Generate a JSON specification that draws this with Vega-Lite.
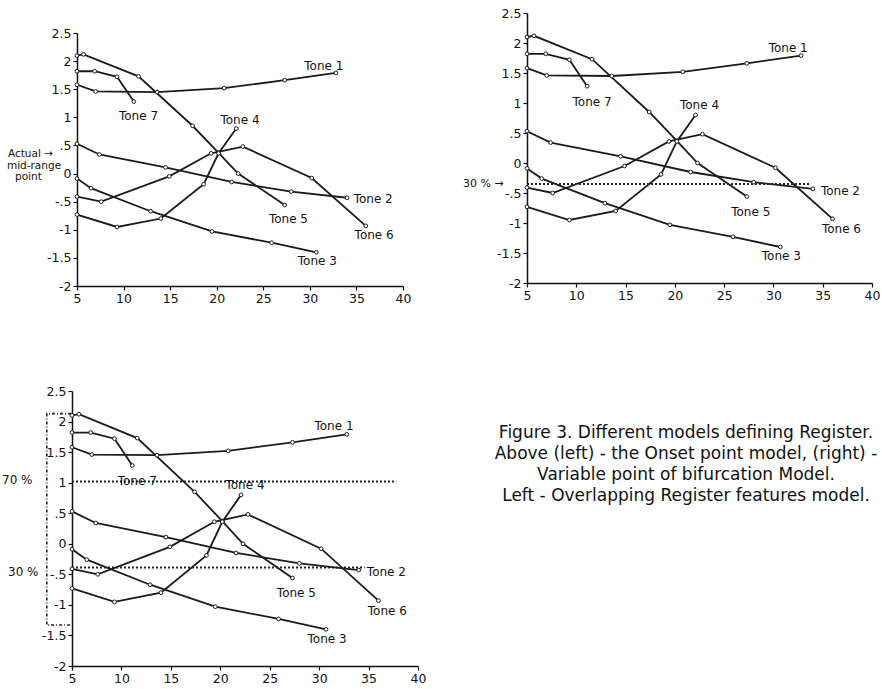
{
  "$schema": "https://vega.github.io/schema/vega-lite/v6.json",
  "padding": {"left": 2, "top": 7, "right": 0, "bottom": 0},
  "background": "white",
  "config": {
    "view": {"stroke": null},
    "font": "DejaVu Sans",
    "axis": {"domainColor": "#111", "domainWidth": 1.5, "tickColor": "#111", "tickSize": 4, "tickWidth": 1.2, "labelColor": "#111", "labelFont": "DejaVu Sans", "labelFontSize": 12.5, "grid": false, "labelPadding": 2, "labelOverlap": false, "labelBound": false, "labelFlush": false, "tickCount": 12},
    "axisX": {"labelAngle": 0}
  },
  "datasets": {
    "tones": [
      {"tone": "Tone 1", "x": 5, "y": 1.58}, {"tone": "Tone 1", "x": 7, "y": 1.46}, {"tone": "Tone 1", "x": 13.6, "y": 1.45}, {"tone": "Tone 1", "x": 20.8, "y": 1.52}, {"tone": "Tone 1", "x": 27.3, "y": 1.66}, {"tone": "Tone 1", "x": 32.8, "y": 1.79},
      {"tone": "Tone 7", "x": 5, "y": 1.82}, {"tone": "Tone 7", "x": 6.9, "y": 1.82}, {"tone": "Tone 7", "x": 9.3, "y": 1.72}, {"tone": "Tone 7", "x": 11.1, "y": 1.28},
      {"tone": "Tone 5", "x": 5, "y": 2.1}, {"tone": "Tone 5", "x": 5.7, "y": 2.12}, {"tone": "Tone 5", "x": 11.6, "y": 1.73}, {"tone": "Tone 5", "x": 17.4, "y": 0.85}, {"tone": "Tone 5", "x": 20.2, "y": 0.37}, {"tone": "Tone 5", "x": 22.3, "y": 0.0}, {"tone": "Tone 5", "x": 27.3, "y": -0.56},
      {"tone": "Tone 6", "x": 5, "y": -0.41}, {"tone": "Tone 6", "x": 7.6, "y": -0.5}, {"tone": "Tone 6", "x": 14.9, "y": -0.05}, {"tone": "Tone 6", "x": 19.4, "y": 0.36}, {"tone": "Tone 6", "x": 22.8, "y": 0.48}, {"tone": "Tone 6", "x": 30.2, "y": -0.08}, {"tone": "Tone 6", "x": 36, "y": -0.93},
      {"tone": "Tone 4", "x": 5, "y": -0.73}, {"tone": "Tone 4", "x": 9.3, "y": -0.95}, {"tone": "Tone 4", "x": 14, "y": -0.8}, {"tone": "Tone 4", "x": 18.6, "y": -0.19}, {"tone": "Tone 4", "x": 20.2, "y": 0.36}, {"tone": "Tone 4", "x": 22.1, "y": 0.8},
      {"tone": "Tone 2", "x": 5, "y": 0.53}, {"tone": "Tone 2", "x": 7.4, "y": 0.34}, {"tone": "Tone 2", "x": 14.5, "y": 0.11}, {"tone": "Tone 2", "x": 21.6, "y": -0.15}, {"tone": "Tone 2", "x": 28, "y": -0.32}, {"tone": "Tone 2", "x": 34, "y": -0.43},
      {"tone": "Tone 3", "x": 5, "y": -0.09}, {"tone": "Tone 3", "x": 6.5, "y": -0.26}, {"tone": "Tone 3", "x": 12.9, "y": -0.67}, {"tone": "Tone 3", "x": 19.5, "y": -1.03}, {"tone": "Tone 3", "x": 25.9, "y": -1.23}, {"tone": "Tone 3", "x": 30.7, "y": -1.4}
    ],
    "labels": [
      {"text": "Tone 1", "x": 31.5, "y": 1.92},
      {"text": "Tone 7", "x": 11.6, "y": 1.02},
      {"text": "Tone 4", "x": 22.5, "y": 0.96},
      {"text": "Tone 2", "x": 36.8, "y": -0.46},
      {"text": "Tone 5", "x": 27.7, "y": -0.81},
      {"text": "Tone 6", "x": 36.9, "y": -1.1},
      {"text": "Tone 3", "x": 30.8, "y": -1.55}
    ],
    "refs": [
      {"panel": "B", "kind": "30", "x": 5, "y": -0.35}, {"panel": "B", "kind": "30", "x": 33.8, "y": -0.35},
      {"panel": "C", "kind": "70", "x": 5, "y": 1.02}, {"panel": "C", "kind": "70", "x": 37.8, "y": 1.02},
      {"panel": "C", "kind": "30", "x": 5, "y": -0.39}, {"panel": "C", "kind": "30", "x": 34.6, "y": -0.39}
    ],
    "notes": [
      {"panel": "A", "text": "Actual →", "x": -2.41, "y": 0.34},
      {"panel": "A", "text": "mid-range", "x": -2.52, "y": 0.13},
      {"panel": "A", "text": "point", "x": -1.66, "y": -0.06},
      {"panel": "B", "text": "30 % →", "x": -1.5, "y": -0.35},
      {"panel": "C", "text": "70 %", "x": -2.08, "y": 1.04},
      {"panel": "C", "text": "30 %", "x": -1.47, "y": -0.46}
    ],
    "bracket": [
      {"o": 1, "x": 4.9, "y": 2.13}, {"o": 2, "x": 2.45, "y": 2.13}, {"o": 3, "x": 2.45, "y": -1.33}, {"o": 4, "x": 4.9, "y": -1.33}
    ]
  },
  "bounds": "flush",
  "columns": 2,
  "spacing": {"row": 105, "column": 109},
  "concat": [
    {
      "width": 331,
      "height": 273,
      "layer": [
        {
          "data": {"name": "tones"},
          "mark": {"type": "line", "color": "#1a1a1a", "strokeWidth": 1.8},
          "encoding": {
            "x": {"field": "x", "type": "quantitative", "title": null, "scale": {"domain": [5, 40], "range": [5, 331], "nice": false, "zero": false}, "axis": {"values": [5, 10, 15, 20, 25, 30, 35, 40], "tickCount": 12}},
            "y": {"field": "y", "type": "quantitative", "title": null, "scale": {"domain": [-2, 2.5], "range": [273, 20], "nice": false, "zero": false}, "axis": {"offset": -5, "tickCount": 12, "values": [-2, -1.5, -1, -0.5, 0, 0.5, 1, 1.5, 2, 2.5], "labelExpr": "(datum.value < 0 ? '-' : '') + replace(format(abs(datum.value), '.1~f'), '0.', '.')"}},
            "detail": {"field": "tone"}
          }
        },
        {
          "data": {"name": "tones"},
          "mark": {"type": "point", "shape": "circle", "filled": true, "fill": "white", "stroke": "#1a1a1a", "strokeWidth": 1, "size": 14, "opacity": 1},
          "encoding": {
            "x": {"field": "x", "type": "quantitative", "title": null},
            "y": {"field": "y", "type": "quantitative", "title": null}
          }
        },
        {
          "data": {"name": "labels"},
          "mark": {"type": "text", "font": "DejaVu Sans", "fontSize": 12, "color": "#111", "align": "center", "baseline": "middle"},
          "encoding": {
            "x": {"field": "x", "type": "quantitative", "title": null},
            "y": {"field": "y", "type": "quantitative", "title": null},
            "text": {"field": "text"}
          }
        },
        {
          "data": {"name": "notes"},
          "transform": [{"filter": "datum.panel == 'A'"}],
          "mark": {"type": "text", "font": "DejaVu Sans", "fontSize": 10.5, "color": "#111", "align": "left", "baseline": "middle", "clip": false},
          "encoding": {
            "x": {"field": "x", "type": "quantitative", "title": null},
            "y": {"field": "y", "type": "quantitative", "title": null},
            "text": {"field": "text"}
          }
        }
      ]
    },
    {
      "width": 345,
      "height": 270,
      "layer": [
        {
          "data": {"name": "tones"},
          "mark": {"type": "line", "color": "#1a1a1a", "strokeWidth": 1.8},
          "encoding": {
            "x": {"field": "x", "type": "quantitative", "title": null, "scale": {"domain": [5, 40], "nice": false, "zero": false}, "axis": {"values": [5, 10, 15, 20, 25, 30, 35, 40], "tickCount": 12}},
            "y": {"field": "y", "type": "quantitative", "title": null, "scale": {"domain": [-2, 2.5], "nice": false, "zero": false}, "axis": {"tickCount": 12, "values": [-2, -1.5, -1, -0.5, 0, 0.5, 1, 1.5, 2, 2.5], "labelExpr": "(datum.value < 0 ? '-' : '') + replace(format(abs(datum.value), '.1~f'), '0.', '.')"}},
            "detail": {"field": "tone"}
          }
        },
        {
          "data": {"name": "refs"},
          "transform": [{"filter": "datum.panel == 'B'"}],
          "mark": {"type": "line", "color": "#222", "strokeWidth": 2, "strokeDash": [2, 2]},
          "encoding": {
            "x": {"field": "x", "type": "quantitative", "title": null},
            "y": {"field": "y", "type": "quantitative", "title": null},
            "detail": {"field": "kind"}
          }
        },
        {
          "data": {"name": "tones"},
          "mark": {"type": "point", "shape": "circle", "filled": true, "fill": "white", "stroke": "#1a1a1a", "strokeWidth": 1, "size": 14, "opacity": 1},
          "encoding": {
            "x": {"field": "x", "type": "quantitative", "title": null},
            "y": {"field": "y", "type": "quantitative", "title": null}
          }
        },
        {
          "data": {"name": "labels"},
          "mark": {"type": "text", "font": "DejaVu Sans", "fontSize": 12, "color": "#111", "align": "center", "baseline": "middle"},
          "encoding": {
            "x": {"field": "x", "type": "quantitative", "title": null},
            "y": {"field": "y", "type": "quantitative", "title": null},
            "text": {"field": "text"}
          }
        },
        {
          "data": {"name": "notes"},
          "transform": [{"filter": "datum.panel == 'B'"}],
          "mark": {"type": "text", "font": "DejaVu Sans", "fontSize": 11, "color": "#111", "align": "left", "baseline": "middle", "clip": false},
          "encoding": {
            "x": {"field": "x", "type": "quantitative", "title": null},
            "y": {"field": "y", "type": "quantitative", "title": null},
            "text": {"field": "text"}
          }
        }
      ]
    },
    {
      "width": 346,
      "height": 275,
      "layer": [
        {
          "data": {"name": "tones"},
          "mark": {"type": "line", "color": "#1a1a1a", "strokeWidth": 1.8},
          "encoding": {
            "x": {"field": "x", "type": "quantitative", "title": null, "scale": {"domain": [5, 40], "nice": false, "zero": false}, "axis": {"values": [5, 10, 15, 20, 25, 30, 35, 40], "tickCount": 12}},
            "y": {"field": "y", "type": "quantitative", "title": null, "scale": {"domain": [-2, 2.5], "nice": false, "zero": false}, "axis": {"tickCount": 12, "values": [-2, -1.5, -1, -0.5, 0, 0.5, 1, 1.5, 2, 2.5], "labelExpr": "(datum.value < 0 ? '-' : '') + replace(format(abs(datum.value), '.1~f'), '0.', '.')"}},
            "detail": {"field": "tone"}
          }
        },
        {
          "data": {"name": "refs"},
          "transform": [{"filter": "datum.panel == 'C'"}],
          "mark": {"type": "line", "color": "#222", "strokeWidth": 2, "strokeDash": [2, 2]},
          "encoding": {
            "x": {"field": "x", "type": "quantitative", "title": null},
            "y": {"field": "y", "type": "quantitative", "title": null},
            "detail": {"field": "kind"}
          }
        },
        {
          "data": {"name": "bracket"},
          "mark": {"type": "line", "color": "#222", "strokeWidth": 1.6, "strokeDash": [3, 2, 1, 2], "clip": false},
          "encoding": {
            "x": {"field": "x", "type": "quantitative", "title": null},
            "y": {"field": "y", "type": "quantitative", "title": null},
            "order": {"field": "o"}
          }
        },
        {
          "data": {"name": "tones"},
          "mark": {"type": "point", "shape": "circle", "filled": true, "fill": "white", "stroke": "#1a1a1a", "strokeWidth": 1, "size": 14, "opacity": 1},
          "encoding": {
            "x": {"field": "x", "type": "quantitative", "title": null},
            "y": {"field": "y", "type": "quantitative", "title": null}
          }
        },
        {
          "data": {"name": "labels"},
          "mark": {"type": "text", "font": "DejaVu Sans", "fontSize": 12, "color": "#111", "align": "center", "baseline": "middle"},
          "encoding": {
            "x": {"field": "x", "type": "quantitative", "title": null},
            "y": {"field": "y", "type": "quantitative", "title": null},
            "text": {"field": "text"}
          }
        },
        {
          "data": {"name": "notes"},
          "transform": [{"filter": "datum.panel == 'C'"}],
          "mark": {"type": "text", "font": "DejaVu Sans", "fontSize": 12, "color": "#111", "align": "left", "baseline": "middle", "clip": false},
          "encoding": {
            "x": {"field": "x", "type": "quantitative", "title": null},
            "y": {"field": "y", "type": "quantitative", "title": null},
            "text": {"field": "text"}
          }
        }
      ]
    },
    {
      "width": 318,
      "height": 147,
      "data": {"values": [
        {"line": 1, "text": "Figure 3.  Different models defining Register."},
        {"line": 2, "text": "Above (left) - the Onset point model, (right) -"},
        {"line": 3, "text": "Variable point of bifurcation Model."},
        {"line": 4, "text": "Left - Overlapping Register features model."}
      ]},
      "mark": {"type": "text", "font": "DejaVu Sans", "fontSize": 17, "color": "#111", "align": "center", "baseline": "middle"},
      "encoding": {
        "x": {"datum": 0, "type": "quantitative", "scale": {"domain": [-1, 1]}, "axis": null},
        "y": {"field": "line", "type": "quantitative", "scale": {"domain": [-1, 6], "reverse": true, "nice": false, "zero": false}, "axis": null},
        "text": {"field": "text"}
      }
    }
  ]
}
